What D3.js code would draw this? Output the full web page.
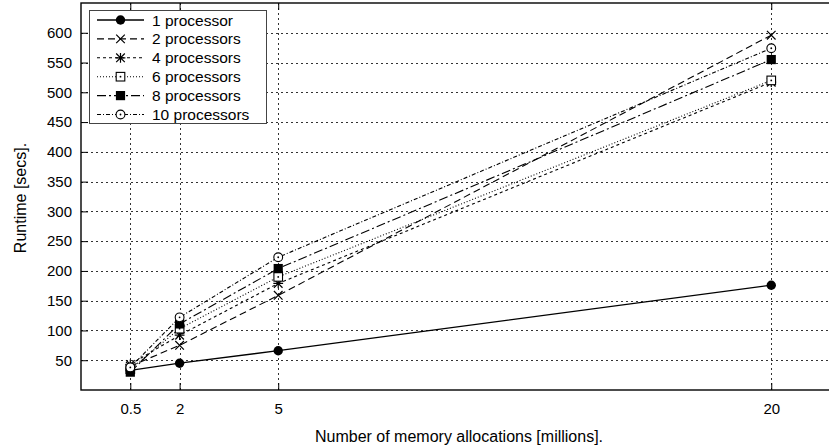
<!DOCTYPE html>
<html><head><meta charset="utf-8">
<script src="https://cdn.jsdelivr.net/npm/d3@7"></script>
<style>body{margin:0;background:#fff}svg{display:block;font-family:"Liberation Sans",Arial,sans-serif}</style>
</head><body><svg id="c" width="829" height="448"></svg>
<script>
const xValues = [0.5, 2, 5, 20];
const xTickLabels = ["0.5", "2", "5", "20"];
const yTicks = [50, 100, 150, 200, 250, 300, 350, 400, 450, 500, 550, 600];
const seriesNames = ["1 processor", "2 processors", "4 processors", "6 processors", "8 processors", "10 processors"];
const proc1 = [33, 45, 66, 176];
const proc2 = [40, 75, 159, 596];
const proc4 = [43, 92, 179, 517];
const proc6 = [35, 103, 190, 520];
const proc8 = [30, 111, 204, 555];
const proc10 = [38, 122, 223, 574];
const seriesValues = [proc1, proc2, proc4, proc6, proc8, proc10];
const dashes = [null, "7,4", "3,3", "1,2", "9,3,2,3", "4,2,1,2"];
const markers = ["dot", "x", "star", "sqdot", "sqfill", "circdot"];

const svg = d3.select("#c");
const L = 81, R = 837, T = 3, B = 390;
const x = d3.scaleLinear().domain([-1, 22]).range([L, R]);
const y = d3.scaleLinear().domain([0, 650]).range([B, T]);

// grid
const grid = svg.append("g").attr("stroke", "#333").attr("stroke-width", 1).attr("stroke-dasharray", "2,3");
grid.selectAll("line.h").data(yTicks).join("line").attr("class", "h")
  .attr("x1", L).attr("x2", R).attr("y1", d => Math.round(y(d)) + 0.5).attr("y2", d => Math.round(y(d)) + 0.5);
grid.selectAll("line.v").data(xValues).join("line").attr("class", "v")
  .attr("y1", T).attr("y2", B).attr("x1", d => Math.round(x(d)) + 0.5).attr("x2", d => Math.round(x(d)) + 0.5);

// axes
const ax = svg.append("g").attr("transform", `translate(${L},0)`)
  .call(d3.axisLeft(y).tickValues(yTicks).tickSize(-7).tickPadding(9));
const bx = svg.append("g").attr("transform", `translate(0,${B})`)
  .call(d3.axisBottom(x).tickValues(xValues).tickFormat((d, i) => xTickLabels[i]).tickSize(-7).tickPadding(13));
const tx = svg.append("g").attr("transform", `translate(0,${T})`)
  .call(d3.axisTop(x).tickValues(xValues).tickFormat("").tickSize(-7));
[ax, bx, tx].forEach(g => {
  g.select(".domain").remove();
  g.selectAll("line").attr("stroke", "#000");
  g.selectAll("text").attr("font-size", 15).attr("fill", "#000").attr("font-family", "Liberation Sans, Arial, sans-serif");
});

// frame
svg.append("rect").attr("x", L).attr("y", T).attr("width", R - L).attr("height", B - T)
  .attr("fill", "none").attr("stroke", "#000").attr("stroke-width", 1.4);

// marker drawer
function drawMarker(g, type, cx, cy) {
  const s = 4.3;
  if (type === "dot") {
    g.append("circle").attr("cx", cx).attr("cy", cy).attr("r", 4.7).attr("fill", "#000");
  } else if (type === "x") {
    g.append("path").attr("d", `M${cx-s},${cy-s}L${cx+s},${cy+s}M${cx-s},${cy+s}L${cx+s},${cy-s}`)
      .attr("stroke", "#000").attr("stroke-width", 1.2).attr("fill", "none");
  } else if (type === "star") {
    g.append("path").attr("d", `M${cx-s},${cy-s}L${cx+s},${cy+s}M${cx-s},${cy+s}L${cx+s},${cy-s}M${cx-s-0.6},${cy}L${cx+s+0.6},${cy}M${cx},${cy-s-0.6}L${cx},${cy+s+0.6}`)
      .attr("stroke", "#000").attr("stroke-width", 1.2).attr("fill", "none");
  } else if (type === "sqdot") {
    g.append("rect").attr("x", cx - s).attr("y", cy - s).attr("width", 2 * s).attr("height", 2 * s)
      .attr("fill", "#fff").attr("stroke", "#000").attr("stroke-width", 1.1);
    g.append("circle").attr("cx", cx).attr("cy", cy).attr("r", 0.9).attr("fill", "#000");
  } else if (type === "sqfill") {
    g.append("rect").attr("x", cx - s - 0.3).attr("y", cy - s - 0.3).attr("width", 2 * s + 0.6).attr("height", 2 * s + 0.6).attr("fill", "#000");
  } else if (type === "circdot") {
    g.append("circle").attr("cx", cx).attr("cy", cy).attr("r", 4.4)
      .attr("fill", "#fff").attr("stroke", "#000").attr("stroke-width", 1.1);
    g.append("circle").attr("cx", cx).attr("cy", cy).attr("r", 0.9).attr("fill", "#000");
  }
}

// series
const line = d3.line().x((d, i) => x(xValues[i])).y(d => y(d));
const plot = svg.append("g");
seriesValues.forEach((vals, si) => {
  const g = plot.append("g");
  g.append("path").attr("d", line(vals)).attr("fill", "none").attr("stroke", "#000")
    .attr("stroke-width", si === 0 ? 1.3 : 1.1).attr("stroke-dasharray", dashes[si]);
  vals.forEach((v, i) => drawMarker(g, markers[si], x(xValues[i]), y(v)));
});

// legend
const lg = svg.append("g");
lg.append("rect").attr("x", 89.5).attr("y", 10.5).attr("width", 177).attr("height", 113)
  .attr("fill", "#fff").attr("stroke", "#444").attr("stroke-width", 1);
seriesNames.forEach((name, i) => {
  const yy = 20 + i * 18.9;
  lg.append("line").attr("x1", 97).attr("x2", 144).attr("y1", yy).attr("y2", yy)
    .attr("stroke", "#000").attr("stroke-width", i === 0 ? 1.3 : 1.1).attr("stroke-dasharray", dashes[i]);
  drawMarker(lg, markers[i], 120.5, yy);
  lg.append("text").attr("x", 152).attr("y", yy).attr("dy", "0.36em").attr("font-size", 15.5).text(name);
});

// axis titles
svg.append("text").attr("transform", `translate(25.5,198) rotate(-90)`).attr("text-anchor", "middle")
  .attr("font-size", 16).text("Runtime [secs].");
svg.append("text").attr("x", 459).attr("y", 442).attr("text-anchor", "middle")
  .attr("font-size", 16).text("Number of memory allocations [millions].");
</script></body></html>
